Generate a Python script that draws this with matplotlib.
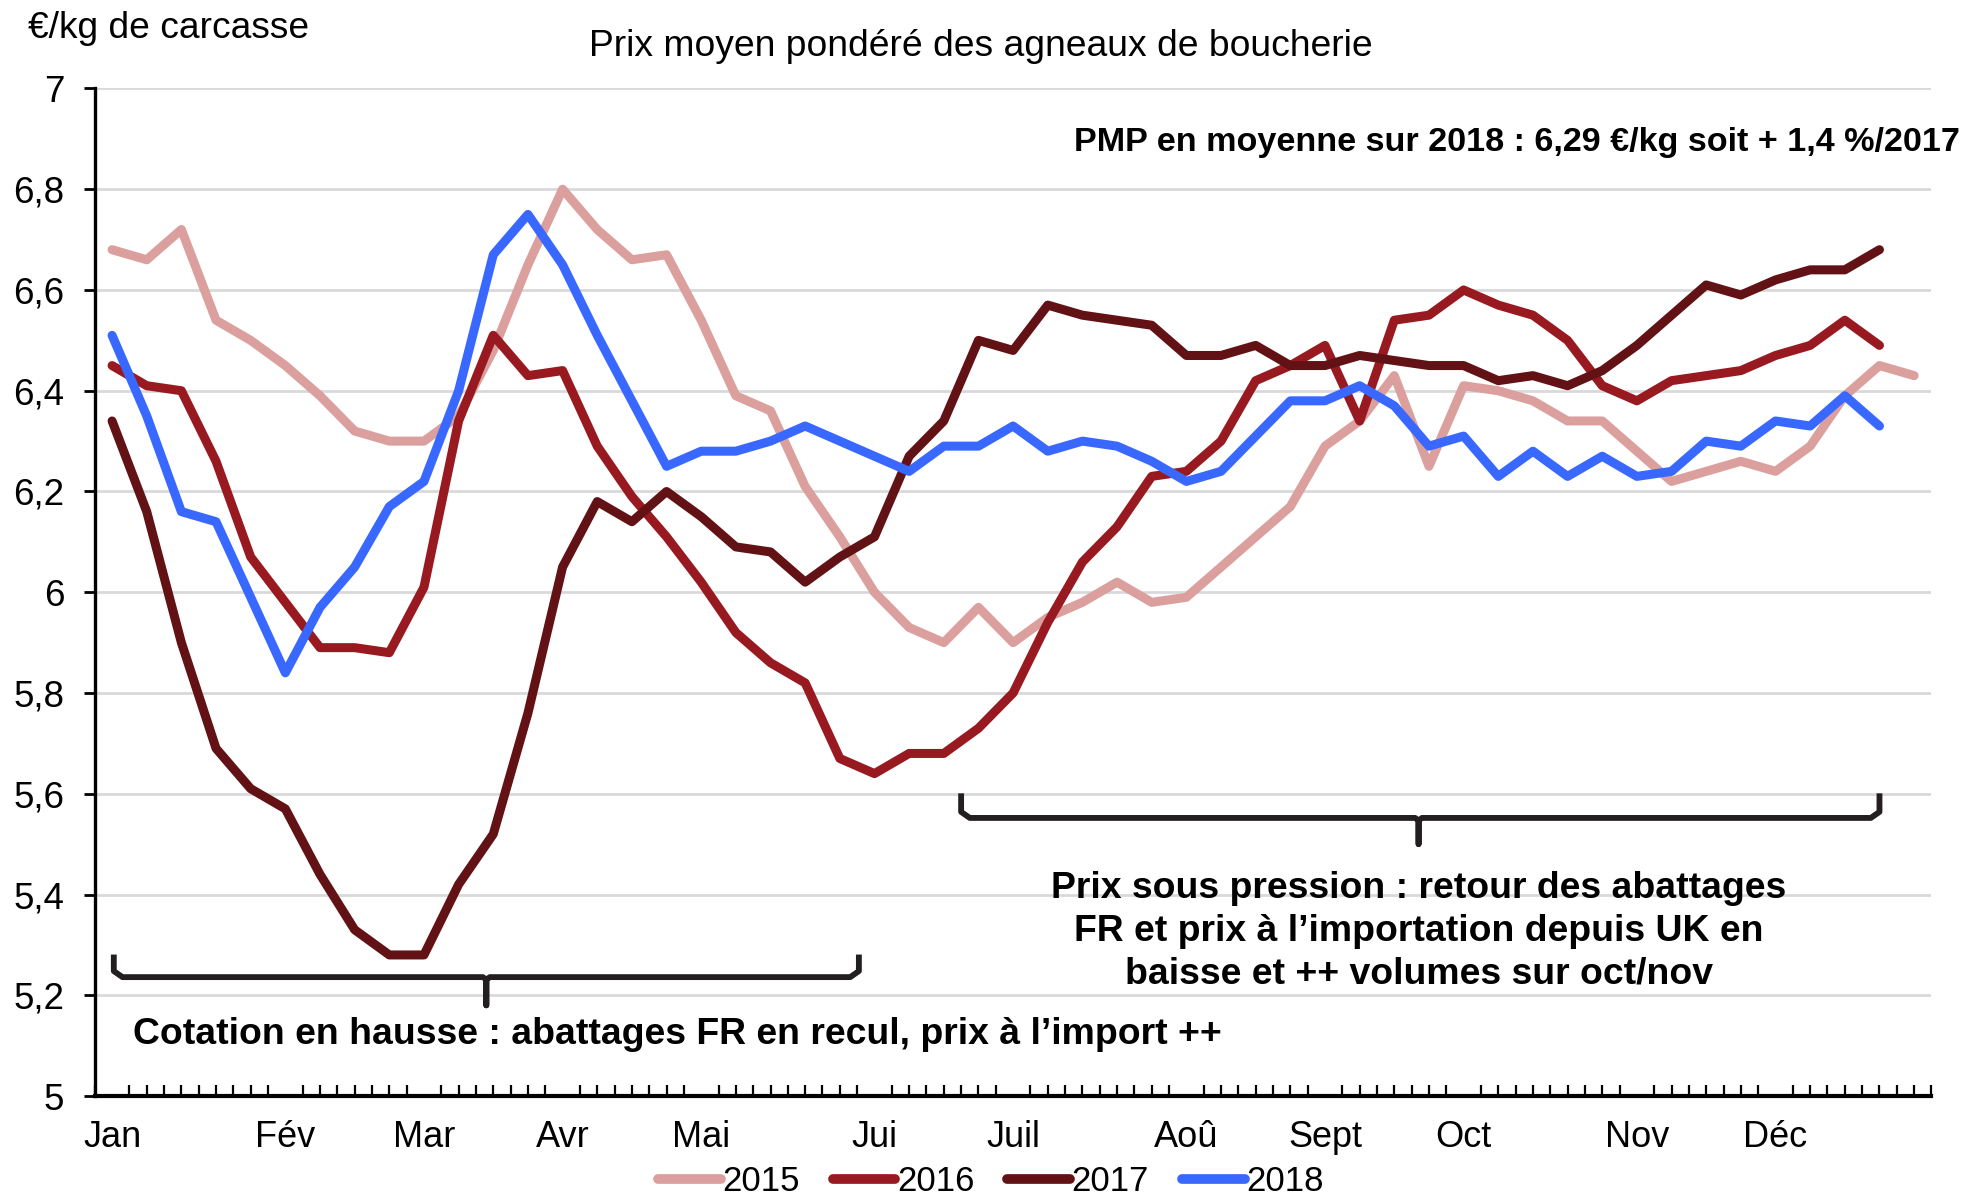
import matplotlib
matplotlib.use("Agg")
import matplotlib.pyplot as plt
import numpy as np

plt.rcParams['font.family'] = ['Liberation Sans', 'DejaVu Sans']

# weekly average prices, one value per week
p2015 = [6.68, 6.66, 6.72, 6.54, 6.50, 6.45, 6.39, 6.32, 6.30, 6.30,
         6.35, 6.48, 6.65, 6.80, 6.72, 6.66, 6.67, 6.54, 6.39, 6.36,
         6.21, 6.11, 6.00, 5.93, 5.90, 5.97, 5.90, 5.95, 5.98, 6.02,
         5.98, 5.99, 6.05, 6.11, 6.17, 6.29, 6.34, 6.43, 6.25, 6.41,
         6.40, 6.38, 6.34, 6.34, 6.28, 6.22, 6.24, 6.26, 6.24, 6.29,
         6.39, 6.45, 6.43]
p2016 = [6.45, 6.41, 6.40, 6.26, 6.07, 5.98, 5.89, 5.89, 5.88, 6.01,
         6.34, 6.51, 6.43, 6.44, 6.29, 6.19, 6.11, 6.02, 5.92, 5.86,
         5.82, 5.67, 5.64, 5.68, 5.68, 5.73, 5.80, 5.94, 6.06, 6.13,
         6.23, 6.24, 6.30, 6.42, 6.45, 6.49, 6.34, 6.54, 6.55, 6.60,
         6.57, 6.55, 6.50, 6.41, 6.38, 6.42, 6.43, 6.44, 6.47, 6.49,
         6.54, 6.49]
p2017 = [6.34, 6.16, 5.90, 5.69, 5.61, 5.57, 5.44, 5.33, 5.28, 5.28,
         5.42, 5.52, 5.76, 6.05, 6.18, 6.14, 6.20, 6.15, 6.09, 6.08,
         6.02, 6.07, 6.11, 6.27, 6.34, 6.50, 6.48, 6.57, 6.55, 6.54,
         6.53, 6.47, 6.47, 6.49, 6.45, 6.45, 6.47, 6.46, 6.45, 6.45,
         6.42, 6.43, 6.41, 6.44, 6.49, 6.55, 6.61, 6.59, 6.62, 6.64,
         6.64, 6.68]
p2018 = [6.51, 6.35, 6.16, 6.14, 5.99, 5.84, 5.97, 6.05, 6.17, 6.22,
         6.40, 6.67, 6.75, 6.65, 6.51, 6.38, 6.25, 6.28, 6.28, 6.30,
         6.33, 6.30, 6.27, 6.24, 6.29, 6.29, 6.33, 6.28, 6.30, 6.29,
         6.26, 6.22, 6.24, 6.31, 6.38, 6.38, 6.41, 6.37, 6.29, 6.31,
         6.23, 6.28, 6.23, 6.27, 6.23, 6.24, 6.30, 6.29, 6.34, 6.33,
         6.39, 6.33]

months = ['Jan', 'Fév', 'Mar', 'Avr', 'Mai', 'Jui', 'Juil', 'Aoû', 'Sept', 'Oct', 'Nov', 'Déc']
month_week = [0, 5, 9, 13, 17, 22, 26, 31, 35, 39, 44, 48]
yticks = [5, 5.2, 5.4, 5.6, 5.8, 6, 6.2, 6.4, 6.6, 6.8, 7]

series = [('2015', p2015, '#DB9F9D'),
          ('2016', p2016, '#981A20'),
          ('2017', p2017, '#621215'),
          ('2018', p2018, '#3868FF')]

fig = plt.figure(figsize=(19.82, 11.99), dpi=100)
ax = fig.add_axes([0.0478, 0.0859, 0.9267, 0.8403])

for name, vals, col in series:
    ax.plot(np.arange(len(vals)), vals, color=col, lw=6.5, label=name,
            solid_capstyle='round', solid_joinstyle='round')

ax.set_xlim(-0.5, 52.5)
ax.set_ylim(5, 7)
ax.set_yticks(yticks)
ax.set_yticklabels([('%g' % v).replace('.', ',') for v in yticks])
ax.yaxis.grid(True, color='#D9D9D9', lw=2)
ax.set_axisbelow(True)
for s in ['top', 'right']:
    ax.spines[s].set_visible(False)
ax.spines['left'].set_linewidth(2.4)
ax.spines['bottom'].set_linewidth(3)
ax.spines['left'].set_zorder(5)
ax.spines['bottom'].set_zorder(5)

ax.set_xticks(month_week)
ax.set_xticklabels(months)
ax.set_xticks(np.arange(-0.5, 52.6, 0.5), minor=True)
ax.tick_params(axis='x', which='major', length=0, pad=17, labelsize=26)
ax.tick_params(axis='x', which='minor', direction='in', length=8, width=1.6)
ax.tick_params(axis='y', length=8, width=2, pad=14, labelsize=26.5)

# braces
def brace(x0, x1, xm, ytop, ybar, ytip):
    r = 0.25
    xs = [x0, x0, x0 + r, xm - 0.1, xm, xm, xm, xm + 0.1, x1 - r, x1, x1]
    ys = [ytop, ybar + 0.012, ybar, ybar, ybar - 0.005, ytip, ybar - 0.005, ybar, ybar, ybar + 0.012, ytop]
    ax.plot(xs, ys, color='#231F20', lw=4.2, solid_joinstyle='round', clip_on=False)

brace(0.05, 21.55, 10.8, 5.275, 5.236, 5.18)
brace(24.5, 51.0, 37.7, 5.595, 5.552, 5.50)

ax.text(0.6, 5.123, 'Cotation en hausse : abattages FR en recul, prix à l’import ++',
        fontsize=26.9, fontweight='bold', va='center', ha='left')
ax.text(37.7, 5.327, 'Prix sous pression : retour des abattages\nFR et prix à l’importation depuis UK en\nbaisse et ++ volumes sur oct/nov',
        fontsize=26.9, fontweight='bold', va='center', ha='center', linespacing=1.27)

fig.text(0.014, 0.976, '€/kg de carcasse', fontsize=26.7, va='center', ha='left')
fig.text(0.495, 0.961, 'Prix moyen pondéré des agneaux de boucherie', fontsize=26.8, va='center', ha='center')
fig.text(0.989, 0.881, 'PMP en moyenne sur 2018 : 6,29 €/kg soit + 1,4 %/2017',
         fontsize=24.6, fontweight='bold', va='center', ha='right')

leg = fig.legend(loc='center', bbox_to_anchor=(0.5, 0.0145), ncol=4, frameon=False,
                 fontsize=25, handlelength=1.8, handletextpad=0.05, columnspacing=0.95,
                 borderpad=0.1)
for h in leg.get_lines():
    h.set_linewidth(7)

fig.savefig('out.png', dpi=100)
